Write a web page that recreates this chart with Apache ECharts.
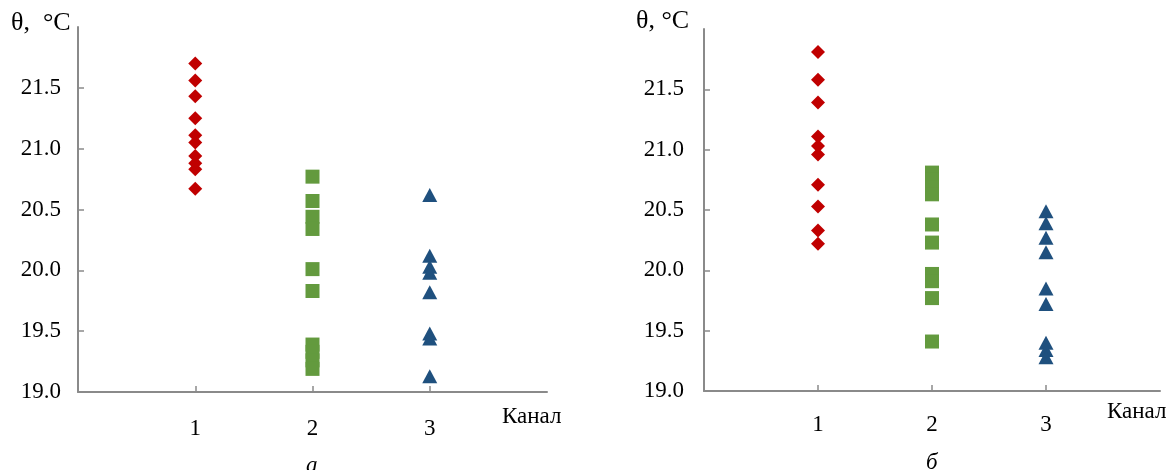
<!DOCTYPE html>
<html>
<head>
<meta charset="utf-8">
<script src="https://cdn.jsdelivr.net/npm/echarts@6/dist/echarts.min.js"></script>
<style>
html,body{margin:0;padding:0;background:#fff;}
#chart{width:1171px;height:470px;}
</style>
</head>
<body>
<div id="chart"></div>
<script>
// ---- data ----
const channels = [1, 2, 3];
const yAxisName = 'θ, °C';
const xAxisName = 'Канал';
const panelLabels = ['а', 'б'];

// panel "а"
const a_ch1 = [21.70, 21.56, 21.43, 21.25, 21.11, 21.05, 20.94, 20.88, 20.83, 20.67];
const a_ch2 = [20.77, 20.57, 20.44, 20.34, 20.01, 19.83, 19.39, 19.33, 19.26, 19.19];
const a_ch3 = [20.62, 20.12, 20.03, 19.98, 19.82, 19.48, 19.44, 19.13];

// panel "б"
const b_ch1 = [21.81, 21.58, 21.39, 21.11, 21.03, 20.96, 20.71, 20.53, 20.33, 20.22];
const b_ch2 = [20.81, 20.75, 20.69, 20.63, 20.38, 20.23, 19.97, 19.91, 19.77, 19.41];
const b_ch3 = [20.49, 20.39, 20.27, 20.15, 19.85, 19.72, 19.40, 19.34, 19.28];

// ---- styles ----
const FONT = "'Liberation Serif', 'Times New Roman', serif";
const AXIS_COLOR = '#8a8a8a';
const COLORS = ['#C00000', '#639A3E', '#1F507E'];
const SYMBOLS = ['diamond', 'rect', 'triangle'];
const SIZES = [[14, 14], [14, 14], [15, 14]];

function toPoints(ch, vals) { return vals.map(v => [ch, v]); }

function makeX(gridIndex, labelMargin) {
  return {
    type: 'value', gridIndex, min: 0, max: 4, interval: 1,
    axisLine: { onZero: false, lineStyle: { color: AXIS_COLOR, width: 2 } },
    axisTick: { inside: true, length: 6, lineStyle: { color: AXIS_COLOR, width: 1.5 } },
    splitLine: { show: false },
    axisLabel: {
      showMinLabel: false, showMaxLabel: false, margin: labelMargin,
      color: '#000', fontFamily: FONT, fontSize: 23,
      formatter: v => channels.includes(v) ? String(v) : ''
    }
  };
}
function makeY(gridIndex, labelMargin) {
  return {
    type: 'value', gridIndex, min: 19, max: 22, interval: 0.5,
    axisLine: { show: true, onZero: false, lineStyle: { color: AXIS_COLOR, width: 2 } },
    axisTick: { show: true, inside: true, length: 6, lineStyle: { color: AXIS_COLOR, width: 1.5 } },
    splitLine: { show: false },
    axisLabel: {
      showMaxLabel: false, margin: labelMargin,
      color: '#000', fontFamily: FONT, fontSize: 23,
      formatter: v => v.toFixed(1)
    }
  };
}

const panels = [[a_ch1, a_ch2, a_ch3], [b_ch1, b_ch2, b_ch3]];
const series = [];
panels.forEach((p, pi) => {
  p.forEach((vals, ci) => {
    series.push({
      type: 'scatter', xAxisIndex: pi, yAxisIndex: pi,
      symbol: SYMBOLS[ci], symbolSize: SIZES[ci],
      itemStyle: { color: COLORS[ci], opacity: 1 },
      data: toPoints(channels[ci], vals),
      animation: false
    });
  });
});

const txt = (x, y, text, extra) => ({
  type: 'text', x, y,
  style: Object.assign({ text, fill: '#000', font: '23px ' + FONT }, extra || {})
});

const chart = echarts.init(document.getElementById('chart'), null, { renderer: 'canvas' });
chart.setOption({
  backgroundColor: '#fff',
  animation: false,
  grid: [
    { left: 78, top: 27, width: 469, height: 365 },
    { left: 704, top: 29, width: 456, height: 362 }
  ],
  xAxis: [makeX(0, 25), makeX(1, 22)],
  yAxis: [makeY(0, 17), makeY(1, 20)],
  series,
  graphic: [
    txt(11, 10, yAxisName.replace(', ', ',  '), { font: '26px ' + FONT }),
    txt(636, 8, yAxisName, { font: '26px ' + FONT }),
    txt(502, 405, xAxisName),
    txt(1107, 400, xAxisName),
    txt(306, 454, panelLabels[0], { font: 'italic 23px ' + FONT }),
    txt(926, 451, panelLabels[1], { font: 'italic 23px ' + FONT })
  ]
});
</script>
</body>
</html>
